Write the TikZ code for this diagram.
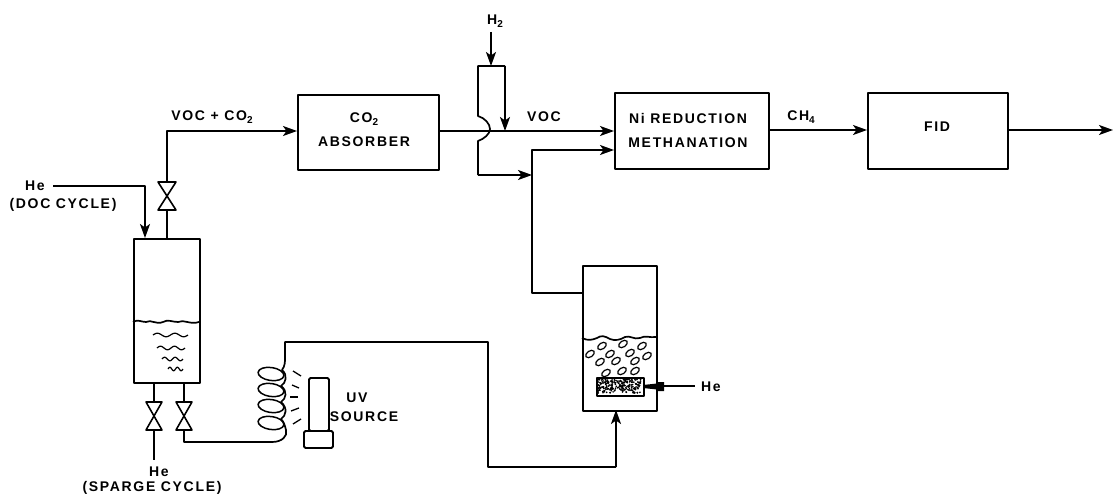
\documentclass[tikz,border=0pt]{standalone}
\usepackage{fontspec}
\setmainfont{Liberation Sans}[LetterSpace=12]
\usetikzlibrary{arrows.meta}
\newcommand{\subn}[1]{\raisebox{-2.5pt}{\fontsize{10}{10}\selectfont #1}}
\tikzset{
  x=1pt,y=-1pt,
  pipe/.style={line width=1.7pt,line join=round},
  flow/.style={pipe,-{Stealth[length=14pt,width=10pt,inset=3.5pt]}},
  box/.style={draw,line width=1.9pt,inner sep=0pt,anchor=north west,line join=round},
  lbl/.style={font=\fontsize{14}{24}\selectfont\bfseries,align=center,inner sep=0pt},
  valve/.style={line width=1.6pt,line join=round},
  wave/.style={line width=1.2pt},
  bubble/.style={line width=1.2pt}
}
\begin{document}
\begin{tikzpicture}
\useasboundingbox (0,0) rectangle (1113,495);
% boxes
\node[box,minimum width=141pt,minimum height=75pt] (abs) at (297,94) {};
\node[box,minimum width=154pt,minimum height=76pt] (ni) at (614,92) {};
\node[box,minimum width=140pt,minimum height=76pt] (fid) at (867,92) {};
\node[lbl] (abst) at (364,130) {CO\subn{2}\\ABSORBER};
\node[lbl] (nit) at (688,130) {Ni REDUCTION\\METHANATION};
\node[lbl] (fidt) at (937,127) {FID};
% vessels
\node[box,minimum width=66pt,minimum height=144pt] (v1) at (133,238) {};
\node[box,minimum width=74pt,minimum height=145pt] (v2) at (582,265) {};
% flow lines
\draw[pipe] (167,238) -- (167,210);
\draw[flow] (167,182) -- (167,131) -- (297,131);
\node[lbl] (voc1) at (212,117) {VOC + CO\subn{2}};
\node[lbl] (he1) at (35,186) {He};
\node[lbl] (doc) at (63,205) {(DOC CYCLE)};
\draw[flow] (53,186) -- (145,186) -- (145,238);
\draw[flow] (438,131) -- (614,131);
\draw[pipe] (505,66) -- (478,66) -- (478,116) .. controls (485,118) and (490,124) .. (490,129) .. controls (490,134) and (484,139) .. (478,141) -- (478,175);
\draw[flow] (478,175) -- (532,175);
\draw[pipe] (532,175) -- (532,293) -- (582,293);
\draw[flow] (532,175) -- (532,150) -- (614,150);
\draw[flow] (505,66) -- (505,131);
\node[lbl] (h2) at (495,21) {H\subn{2}};
\draw[flow] (491,32) -- (491,66);
\node[lbl] (voc2) at (544,117) {VOC};
\node[lbl] (ch4) at (801,117) {CH\subn{4}};
\draw[flow] (768,130) -- (867,130);
\draw[flow] (1007,130) -- (1113,130);
% valves
\foreach \n/\x/\y/\r in {a/167/182/9,b/154/402/8,c/184/402/8}{
  \draw[valve,fill=white] (\x-\r,\y) -- (\x+\r,\y) -- (\x-\r,\y+28) -- (\x+\r,\y+28) -- cycle;
}
% bottom pipes
\draw[pipe] (154,382) -- (154,402);
\draw[pipe] (184,382) -- (184,402);
\draw[pipe] (154,430) -- (154,460);
\node[lbl] (he2) at (159,472) {He};
\node[lbl] (sp) at (152,488) {(SPARGE CYCLE)};
% coil and transfer line
\draw[pipe] (184,430) -- (184,442) -- (272,442)
  .. controls (282,442) and (288,436) .. (286,430)
  .. controls (285,426) and (284,422) .. (281,419)
  .. controls (286,416) and (288,408) .. (281,402)
  .. controls (286,399) and (288,391) .. (281,386)
  .. controls (286,383) and (288,375) .. (282,370)
  .. controls (285,366) and (285,362) .. (285,358)
  -- (285,342) -- (488,342) -- (488,467) -- (616,467);
\foreach \y in {374,390,406,423}{
  \draw[line width=1.5pt] (271,\y) ellipse [x radius=13pt,y radius=6.5pt,rotate=-8];
}
\draw[flow] (616,467) -- (616,410);
% UV lamp rays
\foreach \a/\b/\c/\d in {293/371/301/376,292/385/299/388,290/397/298/397,291/411/299/408,293/424/301/419}{
  \draw[line width=1.3pt] (\a,\b) -- (\c,\d);
}
\node[box,rounded corners=1.5pt,minimum width=20pt,minimum height=53pt] (lamp) at (308,377) {};
\node[box,rounded corners=1.5pt,minimum width=29pt,minimum height=17pt] (base) at (303,430) {};
\node[lbl] (uv) at (357,398) {UV};
\node[lbl] (src) at (364,417) {SOURCE};
% liquid levels
\draw[line width=1.7pt] (133,322) .. controls (138,319) and (141,322) .. (146,322)
  .. controls (151,319) and (156,325) .. (163,322) .. controls (168,319) and (172,322) .. (178,322)
  .. controls (184,319) and (190,325) .. (199,322);
\foreach \x/\y/\w in {153/335/35,157/348/28,162/359/21,168/369/15}{
  \draw[wave] plot[domain=0:1,samples=25,smooth,variable=\t] ({\x+\w*\t},{\y+1.8*sin(720*\t+180)});
}
\draw[line width=1.7pt] (582,338) .. controls (588,341) and (592,340) .. (597,338)
  .. controls (601,335) and (605,336) .. (610,339) .. controls (615,341) and (620,340) .. (625,337)
  .. controls (630,335) and (634,340) .. (640,338) .. controls (645,335) and (650,338) .. (656,337);
% bubbles
\foreach \x/\y in {602/346,623/344,642/346,590/354,610/354,630/353,647/356,600/362,616/361,635/361,606/373,622/371,635/371}{
  \draw[bubble] (\x,\y) ellipse [x radius=4.8pt,y radius=3pt,rotate=35];
}
% sparger
\node[box,fill=white,minimum width=47pt,minimum height=18pt] (sparger) at (596,377) {};
\pgfmathsetseed{11}
\foreach \i in {1,...,230}{
  \pgfmathsetmacro{\px}{598+43*rnd}
  \pgfmathsetmacro{\py}{379+14*rnd}
  \fill (\px,\py) circle (0.95pt);
}
\fill (643,385) -- (657,383.5) -- (657,382) -- (664,382) -- (664,391) -- (657,391) -- (657,389.5) -- (643,388) -- cycle;
\draw[line width=1.3pt] (664,386) -- (695,386);
\node[lbl] (he3) at (711,387) {He};
\end{tikzpicture}
\end{document}
